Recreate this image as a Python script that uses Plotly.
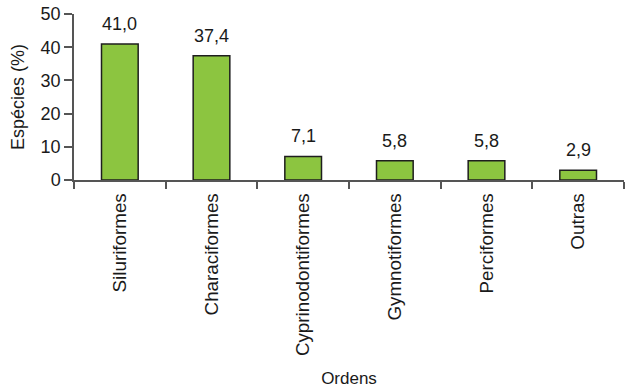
import plotly.graph_objects as go

categories = ["Siluriformes", "Characiformes", "Cyprinodontiformes", "Gymnotiformes", "Perciformes", "Outras"]
values = [41.0, 37.4, 7.1, 5.8, 5.8, 2.9]
labels = ["41,0", "37,4", "7,1", "5,8", "5,8", "2,9"]
y_ticks = [0, 10, 20, 30, 40, 50]

font = "Arial, Liberation Sans, sans-serif"
txt = "#1a1a1a"

fig = go.Figure()
fig.add_trace(go.Bar(
    x=categories, y=values, width=0.4,
    marker=dict(color="#8cc540", line=dict(color="#1e1e1e", width=1.5)),
    hoverinfo="skip",
))
for c, v, t in zip(categories, values, labels):
    fig.add_annotation(x=c, y=v, text=t, showarrow=False, yanchor="bottom", yshift=8,
                       font=dict(family=font, size=18, color=txt))

fig.update_layout(
    width=625, height=390,
    margin=dict(l=74, r=1, t=14, b=210),
    paper_bgcolor="white", plot_bgcolor="white",
    showlegend=False,
    font=dict(family=font, color=txt),
)
fig.update_xaxes(
    showline=True, linecolor="#555555", linewidth=1.5,
    ticks="outside", tickson="boundaries", ticklen=7, tickcolor="#555555", tickwidth=1.5,
    tickangle=-90, tickfont=dict(size=18.8, family=font, color=txt),
    ticklabelstandoff=4,
    showgrid=False, zeroline=False,
    title=dict(text="Ordens", font=dict(size=17, family=font, color=txt), standoff=17),
)
fig.update_yaxes(
    range=[0, 50], tickvals=y_ticks,
    showline=True, linecolor="#555555", linewidth=1.5,
    ticks="outside", ticklen=8, tickcolor="#555555", tickwidth=1.5,
    tickfont=dict(size=18, family=font, color=txt),
    showgrid=False, zeroline=False,
    title=dict(text="Espécies (%)", font=dict(size=18, family=font, color=txt), standoff=11),
)
fig.write_html("out.html")
